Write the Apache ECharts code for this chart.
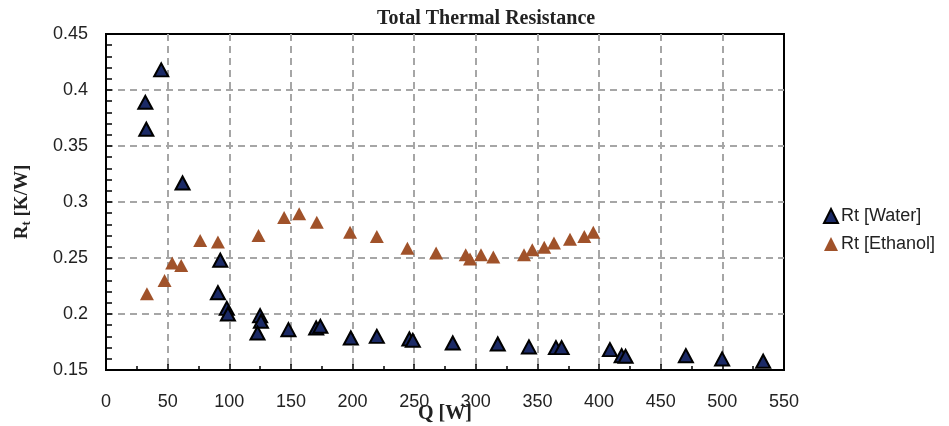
<!DOCTYPE html>
<html><head><meta charset="utf-8">
<script src="https://cdn.jsdelivr.net/npm/echarts@6/dist/echarts.min.js"></script>
<style>html,body{margin:0;padding:0;background:#fff}#c{width:949px;height:426px}</style>
</head><body><div id="c"></div>
<script>
var waterQ = [44.8, 31.9, 32.7, 62.1, 92.7, 90.8, 98, 98.9, 125, 125.7, 122.9, 148, 170.5, 173.9, 198.6, 219.7, 246.1, 248.9, 281.3, 317.8, 343.1, 365, 369.6, 408.8, 418.3, 421.5, 470.4, 499.8, 533.1];
var waterR = [0.418, 0.389, 0.365, 0.317, 0.248, 0.219, 0.205, 0.200, 0.1985, 0.1935, 0.183, 0.186, 0.1875, 0.189, 0.1786, 0.180, 0.1777, 0.1765, 0.1741, 0.1732, 0.1706, 0.170, 0.170, 0.1682, 0.1628, 0.1622, 0.1628, 0.1599, 0.1578];
var ethQ = [33.2, 47.5, 53.7, 61, 76.4, 90.8, 123.7, 144.5, 156.7, 171, 198, 219.7, 244.5, 267.8, 291.8, 295.3, 304.2, 314.2, 339.1, 345.8, 355.5, 363.4, 376.4, 388, 395.3];
var ethR = [0.218, 0.230, 0.2455, 0.2433, 0.2656, 0.2642, 0.270, 0.2861, 0.2894, 0.282, 0.273, 0.2692, 0.2588, 0.2544, 0.2529, 0.249, 0.2529, 0.2508, 0.2529, 0.2573, 0.2597, 0.2633, 0.2668, 0.2692, 0.2731];
var seriesNames = ['Rt [Water]', 'Rt [Ethanol]'];
var titleText = 'Total Thermal Resistance';

function pairs(xs, ys){ return xs.map(function(x,i){ return [x, ys[i]]; }); }

var chart = echarts.init(document.getElementById('c'), null, {renderer:'canvas'});
chart.setOption({
  animation:false,
  backgroundColor:'#fff',
  title:{text:titleText, left:372, top:4,
    textStyle:{fontFamily:'Liberation Serif', fontWeight:'bold', fontSize:20, color:'#222'}},
  grid:{left:106, right:165, top:34, bottom:56, containLabel:false, outerBoundsMode:'none',
    show:true, borderColor:'#000', borderWidth:2, backgroundColor:'transparent'},
  legend:{orient:'vertical', left:818, top:202, itemGap:10, itemWidth:14, itemHeight:14,
    textStyle:{fontFamily:'Liberation Sans', fontSize:18, color:'#222', padding:[0,0,0,-2]},
    data:[{name:seriesNames[0], icon:'triangle'},{name:seriesNames[1], icon:'triangle'}]},
  xAxis:{type:'value', min:0, max:550, interval:50,
    name:'Q [W]', nameLocation:'middle', nameGap:34, nameMoveOverlap:false,
    nameTextStyle:{fontFamily:'Liberation Serif', fontWeight:'bold', fontSize:20, color:'#222', verticalAlign:'top'},
    axisLine:{show:true, onZero:false, lineStyle:{color:'#000', width:2}},
    axisTick:{show:true, inside:true, length:6, lineStyle:{color:'#000', width:1.5}},
    minorTick:{show:true, splitNumber:2, length:4, lineStyle:{color:'#000', width:1.5}},
    axisLabel:{margin:23, fontFamily:'Liberation Sans', fontSize:18, color:'#222'},
    splitLine:{show:true, showMinLine:false, showMaxLine:false, lineStyle:{color:'#a6a6a6', width:2, type:[7,5]}}},
  yAxis:{type:'value', min:0.15, max:0.45, interval:0.05,
    name:'{m|R}{s|t}{m| [K/W]}', nameLocation:'middle', nameGap:73, nameRotate:90, nameMoveOverlap:false,
    nameTextStyle:{rich:{
      m:{fontFamily:'Liberation Serif', fontWeight:'bold', fontSize:19, color:'#222'},
      s:{fontFamily:'Liberation Serif', fontWeight:'bold', fontSize:13, color:'#222', verticalAlign:'bottom', padding:[8,0,0,0]}}},
    axisLine:{show:true, lineStyle:{color:'#000', width:2}},
    axisTick:{show:true, inside:true, length:6, lineStyle:{color:'#000', width:1.5}},
    minorTick:{show:true, splitNumber:5, length:6, lineStyle:{color:'#000', width:1.5}},
    axisLabel:{margin:18, fontFamily:'Liberation Sans', fontSize:18, color:'#222'},
    splitLine:{show:true, showMinLine:false, showMaxLine:false, lineStyle:{color:'#a6a6a6', width:2, type:[7,5]}}},
  series:[
    {name:seriesNames[0], type:'scatter', symbol:'triangle', symbolSize:[14,13],
     itemStyle:{color:'#1b2a66', borderColor:'#000', borderWidth:2, opacity:1},
     data:pairs(waterQ, waterR)},
    {name:seriesNames[1], type:'scatter', symbol:'triangle', symbolSize:[14,13],
     itemStyle:{color:'#a0522a', opacity:1},
     data:pairs(ethQ, ethR)}
  ]
});
</script></body></html>
